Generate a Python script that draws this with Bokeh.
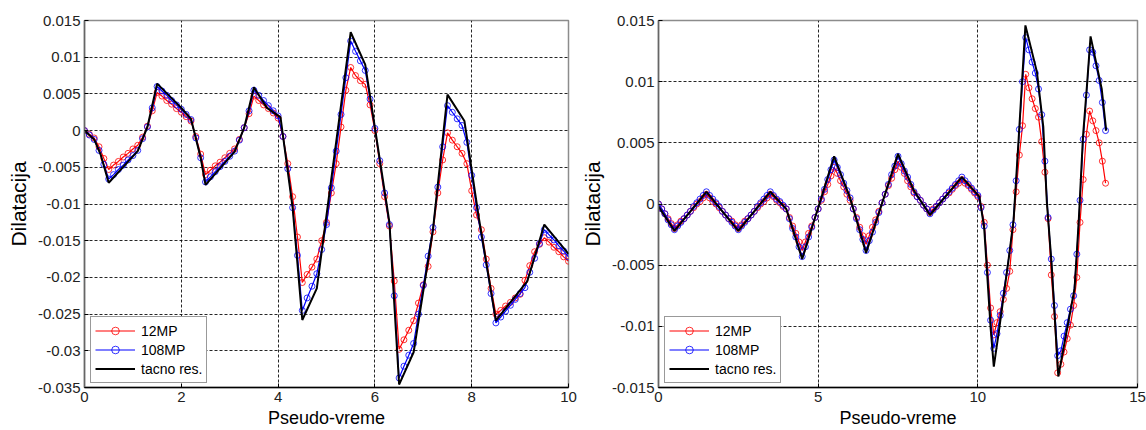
from bokeh.plotting import figure
from bokeh.layouts import row
from bokeh.models import FixedTicker, CustomJSTickFormatter
from bokeh.embed import file_html
from bokeh.resources import INLINE

# ---------------- data ----------------
dt = 0.1  # pseudo-time step of the 12MP / 108MP samples

left_12mp = [
    0.0, -0.0005, -0.001, -0.0022, -0.0038, -0.0053, -0.0047, -0.0042, -0.0036, -0.0031,
    -0.0025, -0.002, -0.0009, 0.0006, 0.0027, 0.0052, 0.0047, 0.0041, 0.0036, 0.003,
    0.0025, 0.0019, 0.0013, -0.0008, -0.0032, -0.006, -0.0054, -0.0048, -0.0043, -0.0037,
    -0.0031, -0.0025, -0.0012, 0.0004, 0.0023, 0.0047, 0.0041, 0.0035, 0.003, 0.0024,
    0.0017, -0.0008, -0.0045, -0.009, -0.0145, -0.0207, -0.0196, -0.0186, -0.0175, -0.015,
    -0.0125, -0.0085, -0.0045, 0.0005, 0.0055, 0.0086, 0.0075, 0.0068, 0.0063, 0.0035,
    0.0, -0.0045, -0.009, -0.013, -0.0205, -0.0298, -0.0285, -0.0272, -0.0259, -0.0235,
    -0.021, -0.0185, -0.0138, -0.0085, -0.004, -0.0003, -0.0013, -0.0022, -0.0031, -0.0045,
    -0.0082, -0.0115, -0.0135, -0.0175, -0.0215, -0.025, -0.0245, -0.0239, -0.0234, -0.0228,
    -0.0223, -0.0204, -0.0184, -0.0165, -0.0155, -0.0146, -0.0152, -0.0159, -0.0165, -0.0172,
    -0.0178]

left_108mp = [
    0.0, -0.0006, -0.0012, -0.0027, -0.0046, -0.0066, -0.006, -0.0053, -0.0047, -0.004,
    -0.0034, -0.0027, -0.0011, 0.0005, 0.0031, 0.006, 0.0054, 0.0048, 0.0041, 0.0035,
    0.0029, 0.0022, 0.0015, -0.001, -0.0037, -0.007, -0.0063, -0.0056, -0.0049, -0.0042,
    -0.0035, -0.0028, -0.0013, 0.0004, 0.0027, 0.0055, 0.0048, 0.0041, 0.0034, 0.0027,
    0.002, -0.0008, -0.0052, -0.0105, -0.017, -0.0245, -0.0228, -0.0212, -0.0195, -0.0162,
    -0.0128, -0.0078, -0.0028, 0.0022, 0.0072, 0.0122, 0.0108, 0.0095, 0.0082, 0.0043,
    0.0003, -0.0041, -0.0085, -0.0128, -0.0225, -0.0337, -0.0321, -0.0306, -0.029, -0.025,
    -0.0211, -0.0171, -0.0132, -0.0077, -0.0022, 0.0034, 0.0025, 0.0016, 0.0007, -0.0016,
    -0.0061, -0.0105, -0.0145, -0.0183, -0.0222, -0.0262, -0.0254, -0.0246, -0.0238, -0.023,
    -0.0222, -0.0214, -0.0193, -0.0174, -0.0154, -0.0135, -0.0142, -0.0149, -0.0157, -0.0164,
    -0.0172]

left_exact_x = [0, 0.2, 0.33, 0.5, 1.1, 1.3, 1.5, 2.0, 2.2, 2.4, 2.5, 3.1, 3.3, 3.5, 3.77,
                4.05, 4.3, 4.5, 4.8, 5.5, 5.8, 6.0, 6.3, 6.5, 6.8, 7.2, 7.5, 7.85, 8.15,
                8.5, 9.15, 9.5, 10.0]
left_exact_y = [0, -0.0012, -0.0032, -0.0071, -0.0028, 0.0005, 0.0064, 0.0031, 0.0016,
                -0.0037, -0.0074, -0.0029, 0.0004, 0.0059, 0.0031, 0.0018, -0.0105,
                -0.0258, -0.0215, 0.0134, 0.009, 0.0004, -0.0125, -0.0346, -0.0302,
                -0.0135, 0.0049, 0.0013, -0.012, -0.0259, -0.0205, -0.0128, -0.0168]

right_12mp = [
    0.0, -0.0004, -0.0008, -0.0012, -0.0016, -0.002, -0.0017, -0.0014, -0.0012, -0.0009,
    -0.0006, -0.0003, 0.0, 0.0002, 0.0005, 0.0008, 0.0005, 0.0002, 0.0, -0.0003,
    -0.0006, -0.0009, -0.0012, -0.0014, -0.0017, -0.002, -0.0017, -0.0014, -0.0012, -0.0009,
    -0.0006, -0.0003, 0.0, 0.0002, 0.0005, 0.0008, 0.0006, 0.0003, 0.0001, -0.0002,
    -0.0004, -0.0011, -0.0018, -0.0024, -0.0031, -0.0038, -0.0031, -0.0024, -0.0018, -0.0011,
    -0.0004, 0.0003, 0.001, 0.0016, 0.0023, 0.003, 0.0025, 0.0019, 0.0014, 0.0008,
    0.0003, -0.0004, -0.0011, -0.0019, -0.0026, -0.0033, -0.0026, -0.0019, -0.0013, -0.0006,
    0.0001, 0.0008, 0.0015, 0.0021, 0.0028, 0.0035, 0.003, 0.0025, 0.0019, 0.0014,
    0.0009, 0.0006, 0.0003, -0.0001, -0.0004, -0.0007, -0.0004, -0.0002, 0.0001, 0.0004,
    0.0007, 0.0009, 0.0012, 0.0015, 0.0017, 0.002, 0.0017, 0.0015, 0.0012, 0.0009,
    0.0006, -0.0002, -0.0015, -0.005, -0.0085, -0.0107, -0.0097, -0.0088, -0.0078, -0.0069,
    -0.0055, -0.0021, 0.001, 0.004, 0.0064, 0.0106, 0.0095, 0.0086, 0.0078, 0.0071,
    0.0051, 0.0026, -0.0012, -0.0058, -0.0092, -0.0138, -0.0131, -0.0121, -0.011, -0.0099,
    -0.0083, -0.006, -0.0015, 0.002, 0.0057, 0.0076, 0.0068, 0.006, 0.005, 0.0035,
    0.0017]

right_108mp = [
    0.0, -0.0004, -0.0008, -0.0013, -0.0017, -0.0021, -0.0018, -0.0015, -0.0012, -0.0009,
    -0.0006, -0.0002, 0.0001, 0.0004, 0.0007, 0.001, 0.0007, 0.0004, 0.0001, -0.0002,
    -0.0006, -0.0009, -0.0012, -0.0015, -0.0018, -0.0021, -0.0018, -0.0015, -0.0012, -0.0009,
    -0.0006, -0.0002, 0.0001, 0.0004, 0.0007, 0.001, 0.0007, 0.0004, 0.0002, -0.0001,
    -0.0004, -0.0012, -0.002, -0.0027, -0.0035, -0.0043, -0.0035, -0.0027, -0.0019, -0.0011,
    -0.0004, 0.0004, 0.0012, 0.002, 0.0028, 0.0036, 0.003, 0.0024, 0.0017, 0.0011,
    0.0005, -0.0004, -0.0012, -0.0021, -0.0029, -0.0038, -0.003, -0.0023, -0.0015, -0.0007,
    0.0001, 0.0008, 0.0016, 0.0024, 0.0031, 0.0039, 0.0033, 0.0027, 0.0022, 0.0016,
    0.001, 0.0006, 0.0003, -0.0001, -0.0004, -0.0008, -0.0005, -0.0002, 0.0001, 0.0004,
    0.0007, 0.001, 0.0013, 0.0016, 0.0019, 0.0022, 0.0019, 0.0016, 0.0013, 0.001,
    0.0007, -0.0003, -0.0018, -0.0056, -0.0095, -0.0118, -0.0106, -0.0091, -0.0073, -0.0056,
    -0.0038, -0.0017, 0.0019, 0.0061, 0.01, 0.0136, 0.0126, 0.0116, 0.0107, 0.0094,
    0.0073, 0.0035, -0.0011, -0.0045, -0.0083, -0.0124, -0.012, -0.0108, -0.0097, -0.0086,
    -0.0075, -0.0041, 0.0003, 0.0053, 0.0089, 0.0126, 0.0124, 0.0113, 0.0101, 0.0083,
    0.006]

right_exact_x = [0, 0.5, 1.5, 2.5, 3.5, 4.0, 4.5, 5.5, 6.0, 6.5, 7.5, 8.0, 8.5, 9.5, 10.05,
                 10.2, 10.4, 10.5, 10.66, 10.97, 11.12, 11.28, 11.49, 11.85, 12.05, 12.16,
                 12.31, 12.52, 13.03, 13.16, 13.29, 13.43, 13.53, 13.88, 14.02]
right_exact_y = [-0.0002, -0.0022, 0.001, -0.0022, 0.001, -0.0004, -0.0045, 0.0039, 0.0005,
                 -0.004, 0.0041, 0.0011, -0.0009, 0.0022, 0.0006, -0.002, -0.0101, -0.0133,
                 -0.0104, -0.0044, -0.0013, 0.0054, 0.0146, 0.0108, 0.0063, 0.0002, -0.0049,
                 -0.0141, -0.0069, -0.0014, 0.0054, 0.0101, 0.0137, 0.0094, 0.006]

left_xticks = [0, 2, 4, 6, 8, 10]
left_yticks = [-0.035, -0.03, -0.025, -0.02, -0.015, -0.01, -0.005, 0, 0.005, 0.01, 0.015]
right_xticks = [0, 5, 10, 15]
right_yticks = [-0.015, -0.01, -0.005, 0, 0.005, 0.01, 0.015]

series_labels = ["12MP", "108MP", "tacno res."]
x_label = "Pseudo-vreme"
y_label = "Dilatacija"

FONT = "Liberation Sans"


def make_panel(width, xr, yr, xticks, yticks, red, blue, ex_x, ex_y,
               border_left, border_right):
    p = figure(width=width, height=430, x_range=xr, y_range=yr,
               output_backend="svg", toolbar_location=None,
               min_border_left=border_left, min_border_right=border_right,
               min_border_top=20, min_border_bottom=43,
               background_fill_color="white", border_fill_color="white")
    p.outline_line_color = "#8c8c8c"
    p.outline_line_width = 1.5

    xs = [round(i * dt, 2) for i in range(len(red))]
    xb = [round(i * dt, 2) for i in range(len(blue))]

    p.line(xs, red, line_color="#ff0000", line_width=1.2, legend_label=series_labels[0])
    p.scatter(xs, red, marker="circle", size=6, fill_color=None, line_color="#ff0000",
              line_width=1, line_alpha=0.8, legend_label=series_labels[0])
    p.line(xb, blue, line_color="#0000ff", line_width=1.2, legend_label=series_labels[1])
    p.scatter(xb, blue, marker="circle", size=6, fill_color=None, line_color="#0000ff",
              line_width=1, line_alpha=0.8, legend_label=series_labels[1])
    p.line(ex_x, ex_y, line_color="black", line_width=2, legend_label=series_labels[2])

    p.xaxis.ticker = FixedTicker(ticks=xticks)
    p.yaxis.ticker = FixedTicker(ticks=yticks)
    p.xgrid.ticker = FixedTicker(ticks=xticks)
    p.ygrid.ticker = FixedTicker(ticks=yticks)
    p.yaxis.formatter = CustomJSTickFormatter(
        code="return (Math.round(tick*1000)/1000).toString();")

    for g in (p.xgrid, p.ygrid):
        g.grid_line_color = "black"
        g.grid_line_dash = "3 2"
        g.grid_line_width = 1
        g.grid_line_alpha = 0.85

    for ax in (p.xaxis, p.yaxis):
        ax.major_tick_in = 4
        ax.major_tick_out = 0
        ax.minor_tick_line_color = None
        ax.major_tick_line_color = "black"
        ax.major_label_text_font = FONT
        ax.major_label_text_font_size = "15px"
        ax.major_label_text_color = "#222222"
        ax.major_label_standoff = 4
        ax.axis_label_text_font = FONT
        ax.axis_label_text_font_style = "normal"
        ax.axis_label_text_color = "black"
    p.xaxis.axis_line_color = "black"
    p.xaxis.axis_line_width = 1.5
    p.yaxis.axis_line_color = "#666666"
    p.yaxis.axis_line_width = 1.5

    p.yaxis.axis_label = y_label
    p.yaxis.axis_label_text_font_size = "21px"
    p.yaxis.axis_label_standoff = 5

    p.xaxis.axis_label = x_label
    p.xaxis.axis_label_text_font_size = "18px"
    p.xaxis.major_label_standoff = 4
    p.xaxis.axis_label_standoff = 3

    lg = p.legend[0]
    lg.location = (6, 4)
    lg.border_line_color = "#333333"
    lg.border_line_width = 1
    lg.background_fill_color = "white"
    lg.background_fill_alpha = 1
    lg.label_text_font = FONT
    lg.label_text_font_size = "14px"
    lg.label_text_color = "black"
    lg.glyph_width = 40
    lg.glyph_height = 19
    lg.label_height = 19
    lg.label_standoff = 6
    lg.padding = 4
    lg.spacing = 0
    lg.margin = 0
    return p


p1 = make_panel(577, (0, 10), (-0.035, 0.015), left_xticks, left_yticks,
                left_12mp, left_108mp, left_exact_x, left_exact_y, 84, 9)
p2 = make_panel(569, (0, 15), (-0.015, 0.015), right_xticks, right_yticks,
                right_12mp, right_108mp, right_exact_x, right_exact_y, 76, 9)

layout = row(p1, p2)
open("out.html", "w").write(file_html(layout, INLINE))
